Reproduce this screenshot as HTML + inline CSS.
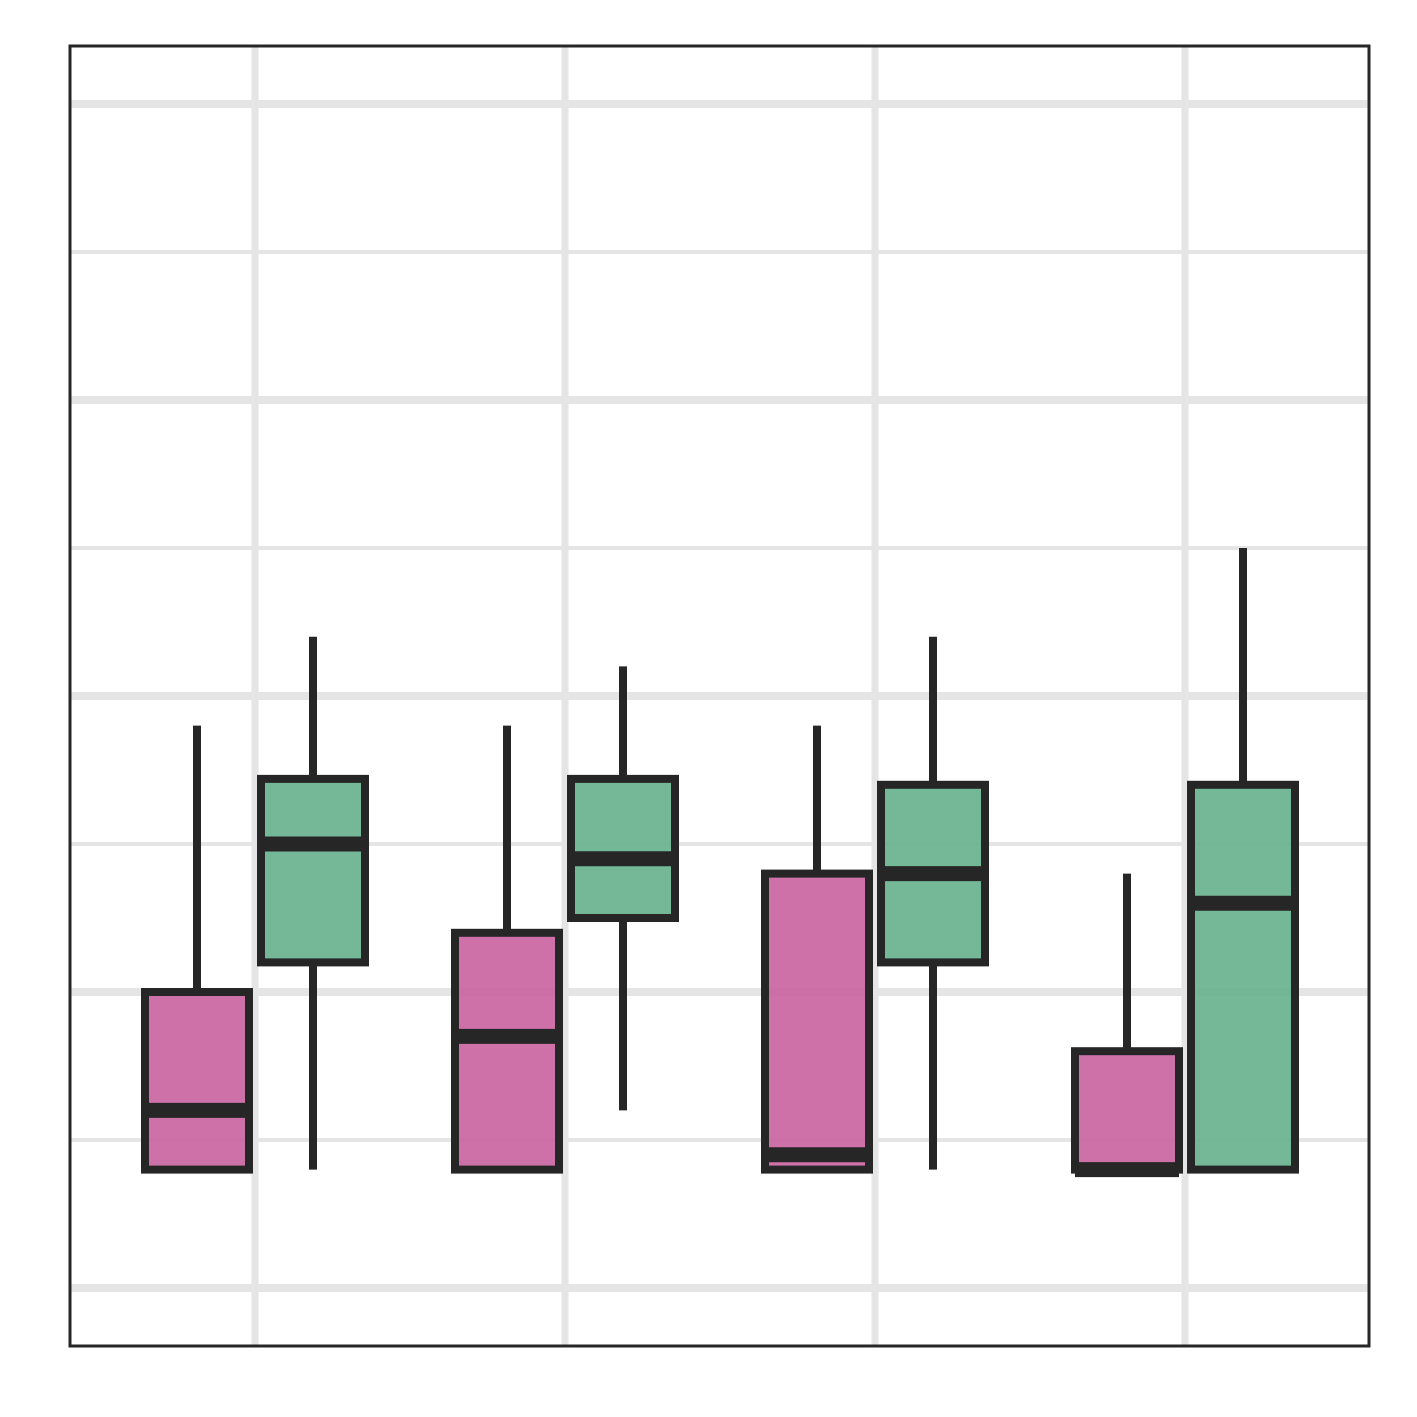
<!DOCTYPE html>
<html><head><meta charset="utf-8"><style>
html,body{margin:0;padding:0;background:#fff}
svg{display:block}
</style></head><body>
<svg id="chart" width="1417" height="1417" viewBox="0 0 1417 1417" xmlns="http://www.w3.org/2000/svg">
<rect x="0" y="0" width="1417" height="1417" fill="#fff"/>
<g id="grid"></g>
<g id="boxes"></g>
<rect x="70" y="46" width="1299" height="1300" fill="none" stroke="#262626" stroke-width="3"/>
</svg>
<script>
const categories = ["A","B","C","D"];
const series = ["pink","green"];
const pinkLow  = [0.40, 0.40, 0.40, 0.40];
const pinkQ1   = [0.40, 0.40, 0.40, 0.40];
const pinkMed  = [0.60, 0.85, 0.45, 0.40];
const pinkQ3   = [1.00, 1.20, 1.40, 0.80];
const pinkHigh = [1.90, 1.90, 1.90, 1.40];
const greenLow  = [0.40, 0.60, 0.40, 0.40];
const greenQ1   = [1.10, 1.25, 1.10, 0.40];
const greenMed  = [1.50, 1.45, 1.40, 1.30];
const greenQ3   = [1.72, 1.72, 1.70, 1.70];
const greenHigh = [2.20, 2.10, 2.20, 2.50];
const yTicks = [0,0.5,1,1.5,2,2.5,3,3.5,4];

const NS = "http://www.w3.org/2000/svg";
const y = v => 1288 - v*296;
const xc = i => 255 + i*310;
function mk(tag, attrs, parent){
  const e = document.createElementNS(NS, tag);
  for (const k in attrs) e.setAttribute(k, attrs[k]);
  parent.appendChild(e); return e;
}
const grid = document.getElementById("grid");
yTicks.forEach(t => {
  const major = Number.isInteger(t);
  const l = mk("line",{x1:70,x2:1369,y1:y(t),y2:y(t),stroke:"#e5e5e5","stroke-width":major?8:4},grid);
  
  
});
categories.forEach((c,i) => {
  const l = mk("line",{x1:xc(i),x2:xc(i),y1:46,y2:1346,stroke:"#e5e5e5","stroke-width":7},grid);
  
  
});
const boxes = document.getElementById("boxes");
const sets = [
  {name:"pink", fill:"#c9629f", off:-58, lo:pinkLow, q1:pinkQ1, med:pinkMed, q3:pinkQ3, hi:pinkHigh},
  {name:"green", fill:"#66b08c", off:58, lo:greenLow, q1:greenQ1, med:greenMed, q3:greenQ3, hi:greenHigh}
];
categories.forEach((c,i) => {
  sets.forEach(s => {
    const cx = xc(i)+s.off, w = 104;
    const g = mk("g",{},boxes);
    
    
    mk("line",{x1:cx,x2:cx,y1:y(s.hi[i]),y2:y(s.q3[i]),stroke:"#262626","stroke-width":8},g);
    mk("line",{x1:cx,x2:cx,y1:y(s.q1[i]),y2:y(s.lo[i]),stroke:"#262626","stroke-width":8},g);
    mk("rect",{x:cx-w/2,y:y(s.q3[i]),width:w,height:Math.max(0,y(s.q1[i])-y(s.q3[i])),fill:s.fill,"fill-opacity":0.9,stroke:"#262626","stroke-width":8},g);
    mk("line",{x1:cx-w/2,x2:cx+w/2,y1:y(s.med[i]),y2:y(s.med[i]),stroke:"#262626","stroke-width":15},g);
  });
});
</script>
</body></html>
